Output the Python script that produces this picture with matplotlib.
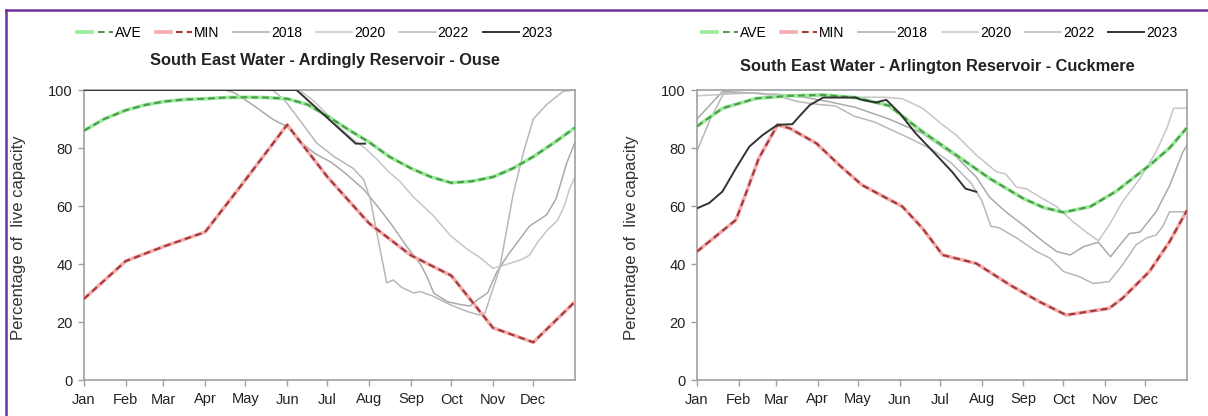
import matplotlib
matplotlib.use("Agg")
import matplotlib.pyplot as plt
from matplotlib.lines import Line2D
from matplotlib.legend_handler import HandlerTuple

plt.rcParams['font.family'] = ['Liberation Sans', 'DejaVu Sans']

# ---------------- data ----------------
months = ['Jan', 'Feb', 'Mar', 'Apr', 'May', 'Jun', 'Jul', 'Aug', 'Sep', 'Oct', 'Nov', 'Dec']
month_days = [0, 31, 59, 90, 120, 151, 181, 212, 243, 273, 304, 334]
y_ticks = [0, 20, 40, 60, 80, 100]
series_labels = ['AVE', 'MIN', '2018', '2020', '2022', '2023']

title_ard = 'South East Water - Ardingly Reservoir - Ouse'
title_arl = 'South East Water - Arlington Reservoir - Cuckmere'
ylabel = 'Percentage of  live capacity'

# Ardingly (day of year, % live capacity)
ard_ave_x = [0, 15, 31, 45, 59, 74, 90, 105, 120, 135, 151, 166, 181, 196, 212, 227, 243, 258, 273, 288, 304, 319, 334, 350, 365]
ard_ave_y = [86, 90, 93, 94.8, 96, 96.7, 97, 97.4, 97.5, 97.4, 97, 95, 91, 86.5, 82, 77, 73, 70, 68, 68.5, 70, 73, 77, 82, 87]
ard_min_x = [0, 31, 59, 90, 120, 151, 181, 212, 243, 273, 304, 334, 365]
ard_min_y = [28, 41, 46, 51, 69, 88, 70, 54, 43, 36, 18, 13, 27]
ard_2018_x = [0, 105, 112, 125, 141, 151, 162, 172, 184, 194, 208, 218, 228, 240, 250, 255, 260, 270, 280, 287, 292, 300, 307, 315, 323, 331, 344, 351, 359, 365]
ard_2018_y = [100, 100, 99, 95, 89.7, 87.4, 81.7, 78, 75, 71.4, 65.7, 60, 54, 46, 40, 35.6, 30, 27, 26, 25.5, 27.5, 30, 37.3, 43, 48, 53, 57, 62.6, 75, 82]
ard_2020_x = [0, 160, 170, 180, 190, 200, 210, 218, 226, 235, 245, 259, 272, 284, 295, 304, 315, 325, 331, 338, 345, 352, 357, 361, 365]
ard_2020_y = [100, 100, 96.5, 92, 87, 83, 79.5, 76, 72, 68.4, 63, 57, 50, 45.4, 42, 38.5, 40, 41.5, 43, 48, 52, 55, 60, 66, 70]
ard_2022_x = [0, 140, 149, 162, 173, 186, 200, 208, 213, 218, 225, 230, 236, 245, 250, 259, 272, 285, 294, 298, 309, 319, 327, 334, 344, 356, 365]
ard_2022_y = [100, 100, 96.6, 88.6, 81.7, 77, 73, 69, 62, 50, 33.5, 34.5, 32, 30, 30.5, 29, 26, 23.6, 22.4, 23, 38.5, 64, 79, 90, 95, 99.5, 100]
ard_2023_x = [0, 158, 202, 209]
ard_2023_y = [100, 100, 81.5, 81.5]

# Arlington
arl_ave_x = [0, 19, 44, 69, 94, 118, 143, 168, 193, 218, 243, 258, 273, 293, 312, 337, 352, 365]
arl_ave_y = [87.5, 93.7, 97.1, 98, 98.3, 97.4, 94.6, 85.6, 77.6, 69.5, 62.6, 59.5, 57.8, 59.8, 65, 74, 80, 87]
arl_min_x = [0, 29, 36, 46, 60, 69, 89, 106, 123, 153, 168, 183, 208, 233, 255, 275, 307, 317, 337, 352, 365]
arl_min_y = [44.3, 55.2, 63.8, 76.4, 88, 86.8, 81.6, 74.1, 67.2, 59.8, 52.3, 43.1, 40.2, 32.8, 27, 22.4, 24.7, 28.2, 37.4, 47.7, 58.5]
arl_2018_x = [0, 10, 19, 40, 60, 80, 98, 118, 143, 168, 193, 208, 218, 230, 243, 258, 268, 278, 288, 299, 308, 317, 322, 330, 342, 352, 362, 365]
arl_2018_y = [90, 95, 99.5, 99, 98.5, 97.5, 96, 94, 90, 85, 77, 70, 63, 58, 53.4, 47.7, 44.3, 43.1, 46, 47.5, 42.5, 47.7, 50.5, 51, 58, 67, 78.7, 81]
arl_2020_x = [0, 20, 40, 60, 80, 100, 120, 140, 153, 168, 183, 193, 208, 223, 230, 238, 245, 255, 268, 280, 290, 299, 307, 317, 330, 342, 350, 355, 365]
arl_2020_y = [98, 98.5, 99, 98.5, 98, 98, 97.5, 97.5, 97, 93.7, 88, 84.5, 77.6, 71.8, 71, 66.5, 66, 63.2, 59.8, 54.6, 51, 48, 53.4, 61.5, 69.5, 78.7, 86.8, 93.7, 93.7]
arl_2022_x = [0, 10, 20, 40, 60, 75, 91, 103, 117, 132, 146, 160, 175, 189, 204, 212, 219, 225, 238, 253, 263, 273, 285, 295, 307, 317, 327, 335, 342, 347, 352, 365]
arl_2022_y = [79, 90, 99, 99, 98, 96, 95, 94.5, 91, 89, 86, 83, 79.5, 75, 68, 62, 53, 52.5, 49, 44.3, 42, 37.4, 35.6, 33.3, 33.9, 39.7, 46.6, 49, 50, 53, 58, 58]
arl_2023_x = [0, 9, 19, 29, 39, 49, 60, 71, 76, 84, 94, 103, 118, 123, 133, 141, 151, 163, 176, 190, 200, 208]
arl_2023_y = [59.2, 61, 65, 73, 80.5, 84.5, 88, 88.2, 90.8, 94.8, 97.4, 97.4, 97.4, 96.6, 95.7, 96.6, 92, 85, 78.7, 71.8, 66, 64.9]

# ---------------- styles ----------------
W, H = 1208, 416
fig = plt.figure(figsize=(W / 100, H / 100), dpi=100)

AVE_HALO, AVE_DASH = '#9aea9a', '#4c9a4c'
MIN_HALO, MIN_DASH = '#f4adad', '#a3383c'
YEAR_COLORS = {'2018': '#aaaaaa', '2020': '#c6c6c6', '2022': '#b8b8b8', '2023': '#333333'}
SPINE = '#a0a0a0'
DASHES = (3.2, 2.0)


def dashed(ax, x, y, halo, dash):
    a, = ax.plot(x, y, color=halo, lw=2.6, solid_capstyle='butt', zorder=3)
    b, = ax.plot(x, y, color=dash, lw=1.5, dashes=DASHES, zorder=4)
    return (a, b)


def panel(rect, title, title_y, ave, mn, years, legend_cx):
    ax = fig.add_axes(rect)
    for lab, (x, y) in years.items():
        if lab == '2023':
            continue
        ax.plot(x, y, color=YEAR_COLORS[lab], lw=1.1, zorder=2)
    dashed(ax, ave[0], ave[1], AVE_HALO, AVE_DASH)
    dashed(ax, mn[0], mn[1], MIN_HALO, MIN_DASH)
    x23, y23 = years['2023']
    ax.plot(x23, y23, color=YEAR_COLORS['2023'], lw=1.4, zorder=5)

    ax.set_xlim(0, 365)
    ax.set_ylim(0, 100)
    ax.set_xticks(month_days)
    ax.set_xticklabels(months)
    ax.set_yticks(y_ticks)
    for s in ax.spines.values():
        s.set_color(SPINE)
        s.set_linewidth(1.2)
    ax.tick_params(axis='both', labelsize=10.5, length=4, width=1, direction='out')
    ax.tick_params(axis='x', pad=5, colors=SPINE, labelcolor='#222222')
    ax.tick_params(axis='y', pad=4, colors=SPINE, labelcolor='#222222')
    ax.set_ylabel(ylabel, fontsize=12, color='#333333')
    ax.yaxis.set_label_coords(-0.118, 0.49)

    pos = ax.get_position()
    fig.text(pos.x0 + pos.width * 0.49, title_y, title, ha='center', va='center',
             fontsize=11.8, fontweight='bold', color='#222222')

    leg_handles = [
        (Line2D([], [], color=AVE_HALO, lw=2.6), Line2D([], [], color=AVE_DASH, lw=1.5, dashes=DASHES)),
        (Line2D([], [], color=MIN_HALO, lw=2.6), Line2D([], [], color=MIN_DASH, lw=1.5, dashes=DASHES)),
    ]
    for lab in ['2018', '2020', '2022', '2023']:
        leg_handles.append(Line2D([], [], color=YEAR_COLORS[lab], lw=1.1 if lab != '2023' else 1.4))
    fig.legend(leg_handles, series_labels, loc='center', bbox_to_anchor=(legend_cx, 1 - 33 / H),
               ncol=6, frameon=False, fontsize=10, handlelength=2.6, handletextpad=0.15,
               columnspacing=1.0, handler_map={tuple: HandlerTuple(ndivide=None)})
    return ax


def rect(x0, x1, ytop, ybot):
    return [x0 / W, 1 - ybot / H, (x1 - x0) / W, (ybot - ytop) / H]


panel(rect(84, 575, 90, 380), title_ard, 1 - 61 / H,
      (ard_ave_x, ard_ave_y), (ard_min_x, ard_min_y),
      {'2018': (ard_2018_x, ard_2018_y), '2020': (ard_2020_x, ard_2020_y),
       '2022': (ard_2022_x, ard_2022_y), '2023': (ard_2023_x, ard_2023_y)},
      314.5 / W)
panel(rect(697, 1187, 90, 380), title_arl, 1 - 67 / H,
      (arl_ave_x, arl_ave_y), (arl_min_x, arl_min_y),
      {'2018': (arl_2018_x, arl_2018_y), '2020': (arl_2020_x, arl_2020_y),
       '2022': (arl_2022_x, arl_2022_y), '2023': (arl_2023_x, arl_2023_y)},
      940 / W)

# purple frame (top and left edges visible)
purple = '#7030a0'
fig.add_artist(Line2D([6 / W, 1.0], [1 - 10 / H, 1 - 10 / H], color=purple, lw=1.8,
                      transform=fig.transFigure, solid_capstyle='projecting'))
fig.add_artist(Line2D([6 / W, 6 / W], [0.0, 1 - 10 / H], color=purple, lw=1.8,
                      transform=fig.transFigure, solid_capstyle='projecting'))

fig.savefig('out.png', dpi=100)
